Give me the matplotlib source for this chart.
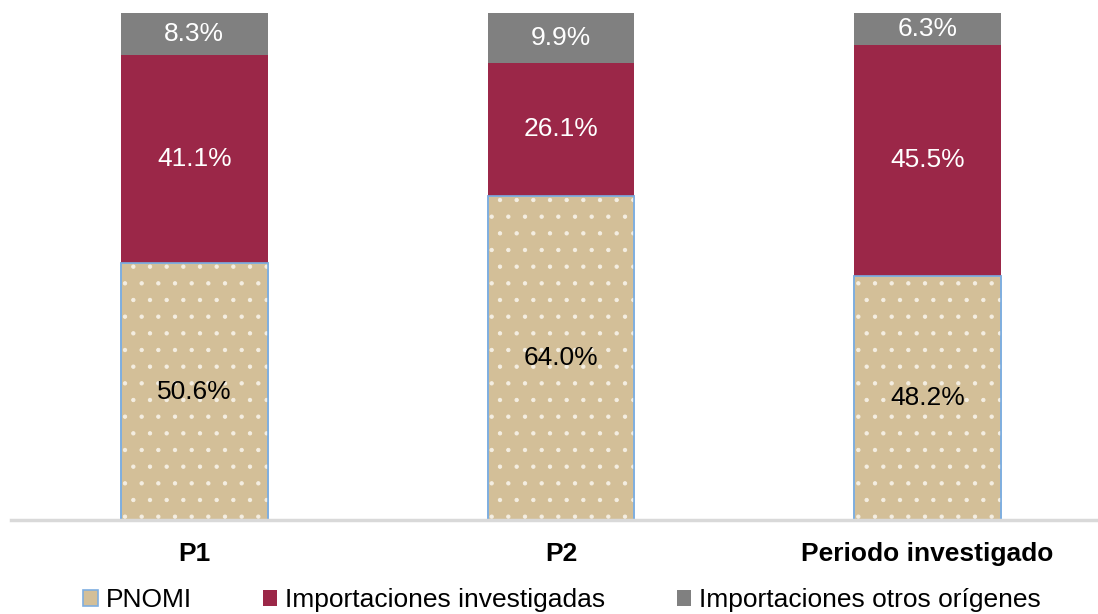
import matplotlib
matplotlib.use("Agg")
import matplotlib.pyplot as plt
import numpy as np

plt.rcParams['font.family'] = ['Liberation Sans', 'DejaVu Sans']
plt.rcParams['hatch.linewidth'] = 0.7

categories = ["P1", "P2", "Periodo investigado"]
pnomi = [50.6, 64.0, 48.2]
investigadas = [41.1, 26.1, 45.5]
otros = [8.3, 9.9, 6.3]
series_names = ["PNOMI", "Importaciones investigadas", "Importaciones otros orígenes"]

c_tan = "#D3BF98"
c_red = "#9B2748"
c_grey = "#808080"
c_edge = "#7EAEE0"

fig = plt.figure(figsize=(10.98, 6.14), dpi=100)
ax = fig.add_axes([11/1098, (614-520)/614, 1 - 11/1098, 507/614])

x = np.arange(len(categories))
w = 0.40
b1 = ax.bar(x, pnomi, w, color=c_tan, edgecolor=c_edge, linewidth=1.2, zorder=2)
ax.bar(x, pnomi, w, facecolor='none', edgecolor='#F4EEE2', linewidth=0, hatch='.', zorder=2.1)
ax.bar(x, pnomi, w, facecolor='none', edgecolor=c_edge, linewidth=1.2, zorder=2.2)
b2 = ax.bar(x, investigadas, w, bottom=pnomi, color=c_red, edgecolor='none', zorder=2)
bottom3 = [a + b for a, b in zip(pnomi, investigadas)]
b3 = ax.bar(x, otros, w, bottom=bottom3, color=c_grey, edgecolor='none', zorder=2)

fs = 19
for i in range(len(categories)):
    ax.text(x[i], pnomi[i] / 2, f"{pnomi[i]:.1f}%", ha='center', va='center', fontsize=fs, color='black', zorder=3)
    ax.text(x[i], pnomi[i] + investigadas[i] / 2, f"{investigadas[i]:.1f}%", ha='center', va='center', fontsize=fs, color='white', zorder=3)
    ax.text(x[i], bottom3[i] + otros[i] / 2, f"{otros[i]:.1f}%", ha='center', va='center', fontsize=fs, color='white', zorder=3)

ax.set_xlim(-0.5, (1098 - 194.5) / 366.5)
ax.set_ylim(0, 100)
for s in ['top', 'right', 'left']:
    ax.spines[s].set_visible(False)
ax.spines['bottom'].set_color('#D9D9D9')
ax.spines['bottom'].set_linewidth(2.5)
ax.set_yticks([])
ax.set_xticks(x)
ax.set_xticklabels(categories, fontsize=19, fontweight='bold')
ax.tick_params(axis='x', length=0, pad=16)

leg = fig.legend([b1, b2, b3], series_names, loc='center left', bbox_to_anchor=(83/1098, 1 - 600/614),
                 ncol=3, frameon=False, fontsize=19, handlelength=0.55, handleheight=0.55,
                 handletextpad=0.3, columnspacing=2.7, borderpad=0, borderaxespad=0)

fig.savefig("out.png", dpi=100)
